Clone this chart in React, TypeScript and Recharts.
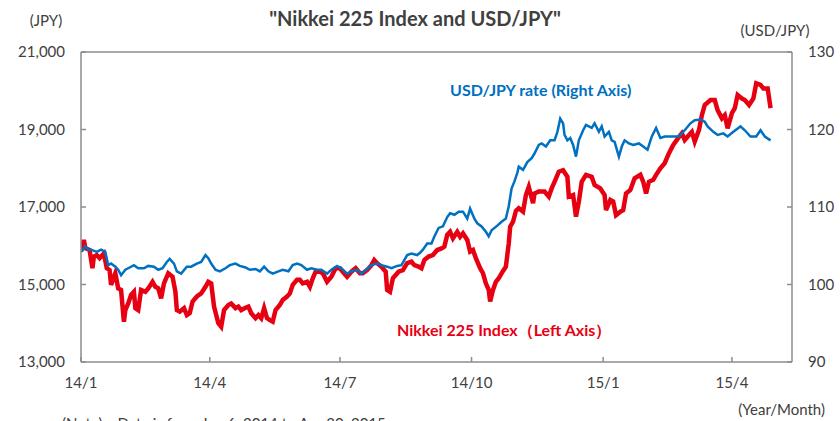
import { LineChart, Line, XAxis, YAxis, ReferenceLine } from 'recharts';

// x values are days counted from 2014-01-06, the first day of the data
const tickDays = [0, 90, 181, 273, 365, 455];
const tickLabels = ['14/1', '14/4', '14/7', '14/10', '15/1', '15/4'];

const leftTicks = [13000, 15000, 17000, 19000, 21000];
const rightTicks = [90, 100, 110, 120, 130];

const nikkeiDays = [
  0, 2, 3, 6, 8, 9, 11, 13, 16, 18, 20, 21, 24, 26, 28, 30, 31, 33, 35, 37, 38, 40, 42, 45, 47, 50, 52, 54, 56, 58,
  61, 64, 66, 67, 69, 72, 74, 76, 78, 81, 84, 87, 89, 91, 93, 96, 98, 100, 103, 105, 108, 110, 112, 115, 117, 119,
  122, 124, 126, 128, 130, 132, 134, 136, 139, 141, 144, 146, 148, 151, 153, 155, 158, 160, 162, 164, 167, 169, 172,
  175, 178, 181, 183, 186, 189, 192, 195, 197, 200, 203, 205, 207, 210, 213, 214, 216, 218, 222, 225, 228, 231, 233,
  236, 238, 240, 243, 246, 249, 252, 254, 256, 258, 260, 263, 265, 267, 270, 272, 274, 276, 279, 281, 283, 285, 286,
  288, 290, 292, 295, 297, 299, 300, 302, 304, 306, 309, 311, 313, 316, 317, 320, 324, 327, 329, 331, 334, 337, 340,
  341, 344, 346, 348, 350, 353, 357, 359, 363, 366, 367, 370, 372, 374, 377, 379, 381, 384, 387, 391, 393, 395, 397,
  400, 402, 405, 408, 411, 414, 418, 420, 422, 425, 427, 429, 432, 434, 436, 440, 443, 445, 448, 450, 452, 455, 457,
  459, 462, 464, 467, 470, 472, 475, 477, 480, 482,
];
const nikkeiValues = [
  15850, 16150, 15940, 15890, 15420, 15720, 15760, 15680, 15800, 15420, 15370, 14990, 15290, 14900, 14860, 14040,
  14340, 14510, 14730, 14810, 14390, 14340, 14860, 14810, 14900, 15070, 14940, 14900, 14640, 15030, 15290, 15200,
  14810, 14340, 14300, 14390, 14210, 14260, 14560, 14690, 14770, 14940, 15070, 15030, 14430, 14000, 13910, 14340,
  14470, 14510, 14390, 14430, 14340, 14400, 14430, 14260, 14130, 14210, 14130, 14390, 14130, 14080, 14040, 14340,
  14470, 14600, 14690, 14770, 14990, 15120, 15120, 15030, 15070, 14940, 15160, 15330, 15330, 15290, 15070, 15200,
  15420, 15420, 15330, 15200, 15330, 15420, 15290, 15290, 15370, 15500, 15630, 15550, 15460, 15330, 14860, 14810,
  15160, 15330, 15370, 15550, 15590, 15500, 15460, 15420, 15630, 15720, 15760, 15890, 15930, 15980, 16280, 16360,
  16190, 16360, 16230, 16320, 16150, 15850, 15890, 15680, 15420, 15290, 15030, 14860, 14560, 14860, 15070, 15160,
  15350, 15460, 16060, 16490, 16620, 16900, 16970, 16880, 17310, 17520, 17100, 17350, 17400, 17400, 17270, 17480,
  17650, 17910, 17950, 17780, 17270, 17310, 16750, 17140, 17650, 17830, 17780, 17570, 17480, 17310, 16920, 17180,
  17140, 16790, 16880, 16920, 17350, 17440, 17740, 17830, 17650, 17350, 17650, 17700, 17830, 18000, 18130, 18390,
  18600, 18810, 18900, 18730, 18860, 18940, 18690, 18990, 19370, 19630, 19760, 19760, 19500, 19290, 19370, 19030,
  19420, 19550, 19890, 19800, 19760, 19630, 19800, 20190, 20150, 20060, 20060, 19550,
];

const usdDays = [
  0, 3, 5, 7, 11, 14, 17, 19, 21, 24, 26, 28, 31, 33, 37, 40, 44, 47, 51, 54, 57, 60, 62, 65, 67, 70, 74, 77, 81, 84,
  87, 89, 91, 94, 97, 101, 104, 108, 111, 115, 118, 122, 125, 128, 131, 134, 138, 141, 145, 148, 151, 154, 158, 161,
  165, 168, 172, 175, 179, 182, 186, 189, 193, 196, 200, 203, 207, 210, 214, 217, 221, 224, 228, 231, 235, 237, 239,
  242, 245, 247, 250, 253, 256, 258, 261, 264, 267, 270, 272, 275, 277, 280, 283, 285, 287, 291, 294, 297, 299, 301,
  303, 305, 306, 309, 312, 315, 317, 320, 322, 325, 328, 331, 333, 335, 337, 338, 340, 342, 344, 346, 348, 351, 353,
  357, 359, 362, 364, 366, 369, 371, 373, 376, 378, 380, 383, 386, 390, 393, 396, 399, 402, 405, 408, 413, 418, 422,
  426, 429, 433, 436, 438, 442, 445, 449, 452, 456, 461, 464, 468, 472, 475, 478, 482,
];
const usdValues = [
  104.2, 104.9, 104.5, 104.5, 104.2, 104.5, 104.2, 102.5, 102.7, 102.3, 101.9, 101.2, 101.9, 102.1, 102.5, 102.1,
  102.1, 102.4, 102.3, 101.9, 102.1, 102.9, 103.3, 102.7, 101.7, 101.4, 102.3, 102.3, 102.7, 102.9, 103.8, 103.4,
  102.7, 101.9, 101.7, 102.1, 102.5, 102.7, 102.4, 102.2, 101.9, 102.0, 101.7, 102.3, 101.7, 101.4, 101.7, 101.9,
  101.7, 102.5, 102.7, 102.5, 101.9, 102.1, 101.9, 101.9, 101.4, 101.9, 102.4, 102.1, 101.4, 101.7, 101.9, 101.4,
  102.0, 102.5, 102.7, 102.5, 102.3, 102.1, 102.4, 102.5, 103.8, 104.0, 103.8, 104.1, 104.5, 105.3, 105.3, 106.2,
  107.3, 107.5, 108.7, 109.2, 109.0, 109.4, 109.4, 108.5, 109.8, 108.5, 107.9, 107.5, 106.8, 106.2, 107.0, 107.6,
  108.1, 108.5, 110.1, 112.4, 113.3, 114.4, 115.2, 114.8, 115.8, 116.3, 116.9, 118.0, 118.2, 117.8, 118.6, 118.6,
  119.7, 121.4, 120.8, 119.3, 118.6, 118.9, 118.0, 116.5, 118.6, 119.9, 120.6, 120.2, 120.8, 119.7, 120.4, 119.1,
  119.7, 118.6, 118.4, 116.5, 117.8, 118.6, 118.2, 118.0, 118.2, 117.8, 117.4, 119.1, 120.2, 118.9, 119.1, 119.1,
  119.1, 119.9, 120.8, 121.2, 121.3, 121.0, 120.4, 119.7, 119.3, 119.5, 119.1, 119.7, 120.4, 119.9, 119.1, 119.1,
  119.9, 119.1, 118.6,
];

const nikkeiData = nikkeiDays.map((day, i) => ({ day, nikkei: nikkeiValues[i] }));
const usdData = usdDays.map((day, i) => ({ day, usd: usdValues[i] }));

const font = 'Lato, "Noto Sans", sans-serif';
const axisColor = '#8c8c8c';
const textColor = '#404040';
const tickStyle = { fontSize: 15, fill: textColor, fontFamily: font };

export default function App() {
  return (
    <div style={{ position: 'absolute', left: 0, top: 0, width: 840, height: 421, background: '#fff' }}>
      <LineChart width={840} height={421} margin={{ top: 52, right: 0, bottom: 29, left: 0 }}>
        <XAxis
          dataKey="day"
          type="number"
          domain={[0, 497]}
          ticks={tickDays}
          interval={0}
          tickFormatter={(d: number) => tickLabels[tickDays.indexOf(d)]}
          tick={tickStyle}
          tickSize={-5}
          tickMargin={20}
          height={30}
          stroke={axisColor}
          strokeWidth={1.5}
          allowDataOverflow
        />
        <YAxis
          yAxisId="left"
          domain={[13000, 21000]}
          ticks={leftTicks}
          interval={0}
          tickFormatter={(v: number) => v.toLocaleString('en-US')}
          tick={tickStyle}
          tickSize={-5}
          tickMargin={21}
          width={81}
          stroke={axisColor}
          strokeWidth={1.5}
        />
        <YAxis
          yAxisId="right"
          orientation="right"
          domain={[90, 130]}
          ticks={rightTicks}
          interval={0}
          tick={tickStyle}
          tickSize={-5}
          tickMargin={21}
          width={48}
          stroke={axisColor}
          strokeWidth={1.5}
        />
        <ReferenceLine yAxisId="left" y={21000} stroke={axisColor} strokeWidth={1.5} />
        <Line
          yAxisId="left"
          data={nikkeiData}
          dataKey="nikkei"
          type="linear"
          stroke="#e60012"
          strokeWidth={4.5}
          dot={false}
          isAnimationActive={false}
        />
        <Line
          yAxisId="right"
          data={usdData}
          dataKey="usd"
          type="linear"
          stroke="#0070c0"
          strokeWidth={2.5}
          dot={false}
          isAnimationActive={false}
        />
      </LineChart>
      <svg width={840} height={421} style={{ position: 'absolute', left: 0, top: 0, pointerEvents: 'none' }}>
        <g fontFamily={font}>
          <text x={415} y={26} textAnchor="middle" fontSize={20} fontWeight="bold" fill={textColor}>
            "Nikkei 225 Index and USD/JPY"
          </text>
          <text x={46} y={26} textAnchor="middle" fontSize={15} fill={textColor}>(JPY)</text>
          <text x={775} y={36} textAnchor="middle" fontSize={15} fill={textColor}>(USD/JPY)</text>
          <text x={450} y={96} fontSize={16} fontWeight="bold" fill="#0070c0">USD/JPY rate (Right Axis)</text>
          <text x={397} y={336} fontSize={16} fontWeight="bold" fill="#e60012">Nikkei 225 Index（Left Axis）</text>
          <text x={825} y={415} textAnchor="end" fontSize={15} fill={textColor}>(Year/Month)</text>
          <text x={62} y={429} fontSize={15} fill={textColor}>(Note)　Data is from Jan 6, 2014 to Apr 30, 2015</text>
        </g>
      </svg>
    </div>
  );
}
